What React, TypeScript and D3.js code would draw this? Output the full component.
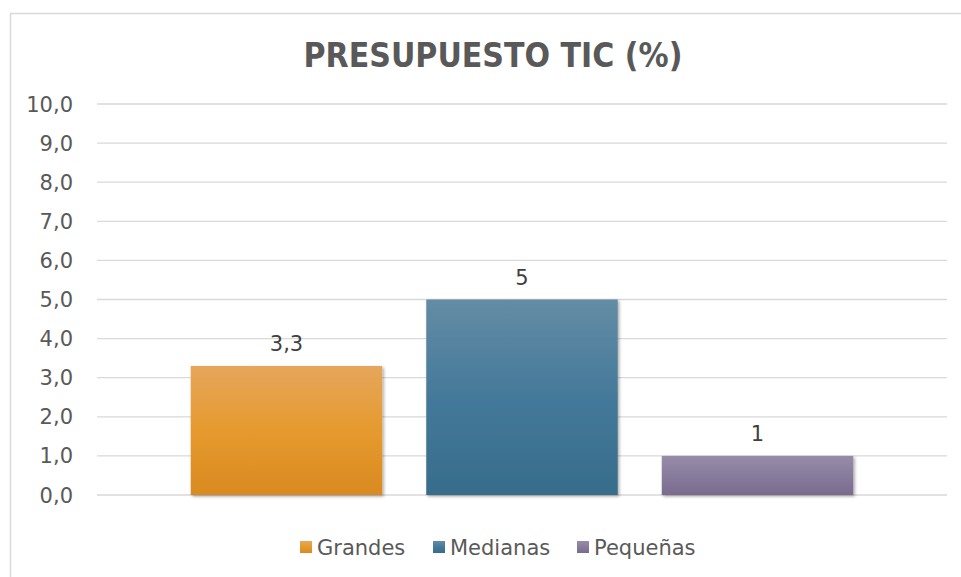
import React from "react";
import * as d3 from "d3";

// chart data
const title = "PRESUPUESTO TIC (%)";
const series = ["Grandes", "Medianas", "Pequeñas"];
const values = [3.3, 5, 1];
const valueLabels = ["3,3", "5", "1"];
const yTicks = [0, 1, 2, 3, 4, 5, 6, 7, 8, 9, 10];
const gradients = [
  ["#E6A65C", "#E69A2E", "#D98A21"],
  ["#648CA5", "#44799A", "#376C8B"],
  ["#978CA7", "#887C9C", "#7A6A8F"],
];

const W = 961;
const H = 577;
const font = "Tahoma, 'DejaVu Sans', sans-serif";
const textColor = "#595959";

const esLocale = d3.formatLocale({
  decimal: ",",
  thousands: ".",
  grouping: [3],
  currency: ["", "€"],
});
const fmt = esLocale.format(".1f");

function App() {
  const plot = { left: 97, right: 947, top: 104, bottom: 495 };

  const y = d3.scaleLinear().domain([0, 10]).range([plot.bottom, plot.top]);
  const x = d3
    .scaleBand<string>()
    .domain(series)
    .range([plot.left, plot.right])
    .paddingInner(0.187)
    .paddingOuter(0.398);

  // legend layout
  const legendX = [300, 433, 577];

  return (
    <svg
      width={W}
      height={H}
      style={{ position: "absolute", left: 0, top: 0, display: "block" }}
      fontFamily={font}
    >
      <defs>
        {gradients.map((g, i) => (
          <linearGradient key={i} id={`grad${i}`} x1="0" y1="0" x2="0" y2="1">
            <stop offset="0%" stopColor={g[0]} />
            <stop offset="50%" stopColor={g[1]} />
            <stop offset="100%" stopColor={g[2]} />
          </linearGradient>
        ))}
        <filter id="shadow" x="-5%" y="-5%" width="115%" height="115%">
          <feDropShadow dx="1.5" dy="1.5" stdDeviation="1.5" floodColor="#000" floodOpacity="0.35" />
        </filter>
      </defs>

      <rect x={0} y={0} width={W} height={H} fill="#fff" />
      <rect x={10.5} y={13.5} width={1000} height={1000} fill="none" stroke="#D9D9D9" strokeWidth={1.5} />

      <text
        x={493}
        y={67}
        textAnchor="middle"
        fontSize={34}
        fontWeight="bold"
        fill={textColor}
        textLength={379}
        lengthAdjust="spacingAndGlyphs"
      >
        {title}
      </text>

      {/* gridlines and y labels */}
      {yTicks.map((t) => (
        <g key={t}>
          <line
            x1={plot.left}
            x2={plot.right}
            y1={y(t)}
            y2={y(t)}
            stroke="#D9D9D9"
            strokeWidth={1.3}
          />
          <text
            x={73}
            y={y(t)}
            dy="0.36em"
            textAnchor="end"
            fontSize={21}
            fill={textColor}
          >
            {fmt(t)}
          </text>
        </g>
      ))}

      {/* bars */}
      {series.map((s, i) => (
        <g key={s}>
          <rect
            x={x(s)}
            y={y(values[i])}
            width={x.bandwidth()}
            height={y(0) - y(values[i])}
            fill={`url(#grad${i})`}
            filter="url(#shadow)"
          />
          <text
            x={(x(s) as number) + x.bandwidth() / 2}
            y={y(values[i]) - 15}
            textAnchor="middle"
            fontSize={21}
            fill="#404040"
          >
            {valueLabels[i]}
          </text>
        </g>
      ))}

      {/* legend */}
      {series.map((s, i) => (
        <g key={s} transform={`translate(${legendX[i]},547)`}>
          <rect x={0} y={-6} width={12} height={12} fill={`url(#grad${i})`} />
          <text x={17} y={0} dy="0.36em" fontSize={21} fill={textColor}>
            {s}
          </text>
        </g>
      ))}
    </svg>
  );
}

export default App;
